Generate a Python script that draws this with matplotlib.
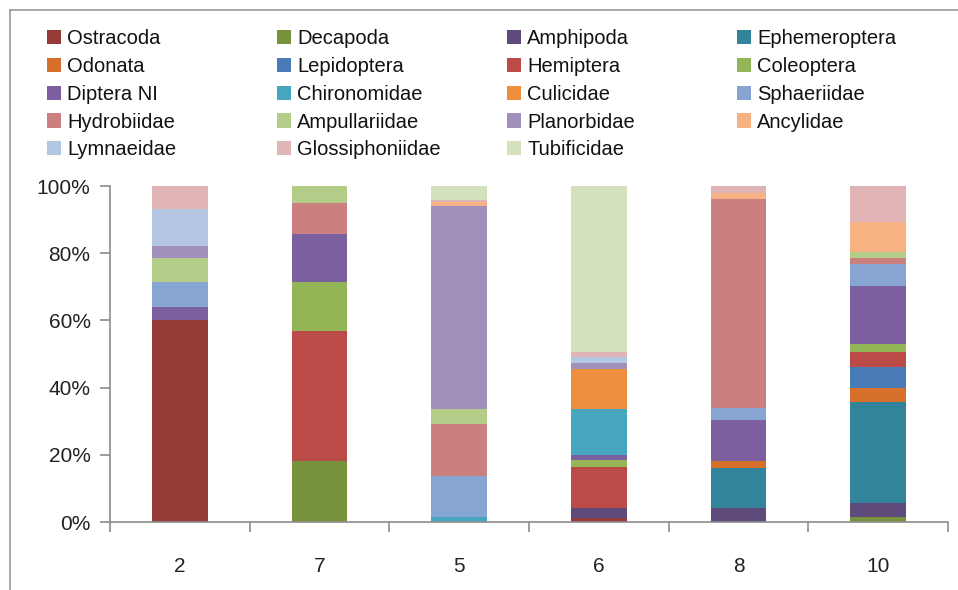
import matplotlib
matplotlib.use('Agg')
import matplotlib.pyplot as plt
from matplotlib.lines import Line2D
from matplotlib.ticker import PercentFormatter
import numpy as np

plt.rcParams['font.family'] = ['Liberation Sans Narrow', 'Liberation Sans', 'DejaVu Sans']

# sites on the x axis
sites = ['2', '7', '5', '6', '8', '10']

# relative abundance (%) of each taxon per site
ostracoda = [60.0, 0, 0, 1.3, 0, 0]
decapoda = [0, 18.3, 0, 0, 0, 1.6]
amphipoda = [0, 0, 0, 2.8, 4.3, 4.2]
ephemeroptera = [0, 0, 0, 0, 11.8, 29.8]
odonata = [0, 0, 0, 0, 2.2, 4.3]
lepidoptera = [0, 0, 0, 0, 0, 6.1]
hemiptera = [0, 38.5, 0, 12.4, 0, 4.7]
coleoptera = [0, 14.6, 0, 2.0, 0, 2.3]
diptera_ni = [3.9, 14.4, 0, 1.3, 12.0, 17.1]
chironomidae = [0, 0, 1.4, 13.9, 0, 0]
culicidae = [0, 0, 0, 11.9, 0, 0]
sphaeriidae = [7.4, 0, 12.3, 0, 3.5, 6.8]
hydrobiidae = [0, 9.2, 15.5, 0, 62.2, 1.8]
ampullariidae = [7.4, 5.0, 4.5, 0, 0, 1.7]
planorbidae = [3.3, 0, 60.4, 1.7, 0, 0]
ancylidae = [0, 0, 1.2, 0, 2.0, 9.0]
lymnaeidae = [11.2, 0, 0, 1.8, 0, 0]
glossiphoniidae = [6.8, 0, 0.5, 1.5, 2.0, 10.6]
tubificidae = [0, 0, 4.2, 49.4, 0, 0]

taxa = ['Ostracoda', 'Decapoda', 'Amphipoda', 'Ephemeroptera', 'Odonata',
        'Lepidoptera', 'Hemiptera', 'Coleoptera', 'Diptera NI', 'Chironomidae',
        'Culicidae', 'Sphaeriidae', 'Hydrobiidae', 'Ampullariidae', 'Planorbidae',
        'Ancylidae', 'Lymnaeidae', 'Glossiphoniidae', 'Tubificidae']
values = [ostracoda, decapoda, amphipoda, ephemeroptera, odonata,
          lepidoptera, hemiptera, coleoptera, diptera_ni, chironomidae,
          culicidae, sphaeriidae, hydrobiidae, ampullariidae, planorbidae,
          ancylidae, lymnaeidae, glossiphoniidae, tubificidae]
colors = ['#943A37', '#77923D', '#5F4B7B', '#32849A', '#D6702A',
          '#4A7BB9', '#BA4B48', '#94B555', '#7C5F9E', '#46A6C0',
          '#EE8F40', '#87A5D2', '#CB7F7E', '#B3CC88', '#A18FBC',
          '#F7B283', '#B4C7E2', '#E0B4B4', '#D4E1BD']

fig = plt.figure(figsize=(9.58, 5.90), dpi=100)
ax = fig.add_axes([110 / 958, 68 / 590, 838 / 958, 336 / 590])

x = np.arange(len(sites))
bottom = np.zeros(len(sites))
for name, vals, col in zip(taxa, values, colors):
    ax.bar(x, vals, width=0.4, bottom=bottom, color=col, label=name, linewidth=0)
    bottom += np.array(vals)

ax.set_xlim(-0.5, len(sites) - 0.5)
ax.set_ylim(0, 100)
ax.yaxis.set_major_formatter(PercentFormatter(decimals=0))
ax.set_yticks(np.arange(0, 101, 20))

# tick marks between categories, labels at category centres
ax.set_xticks(np.arange(-0.5, len(sites), 1.0))
ax.set_xticklabels([])
ax.set_xticks(x, minor=True)
ax.set_xticklabels(sites, minor=True)

for side in ['top', 'right']:
    ax.spines[side].set_visible(False)
for side in ['left', 'bottom']:
    ax.spines[side].set_color('#8c8c8c')
    ax.spines[side].set_linewidth(1.2)

ax.tick_params(axis='y', direction='out', length=7, width=1.2, color='#8c8c8c',
               labelsize=15, labelcolor='#222222', pad=7)
ax.tick_params(axis='x', which='major', direction='out', length=7, width=1.2,
               color='#8c8c8c')
ax.tick_params(axis='x', which='minor', length=0, labelsize=15,
               labelcolor='#222222', pad=25)

# legend laid out as four fixed-width columns
handles, labels = ax.get_legend_handles_labels()
col_x = [47, 277, 507, 737]
for c in range(4):
    h = handles[c::4]
    l = labels[c::4]
    leg = fig.legend(h, l, loc='upper left',
                     bbox_to_anchor=(col_x[c] / 958, 1 - 29 / 590),
                     frameon=False, fontsize=14.5, handlelength=0.7,
                     handleheight=0.7, handletextpad=0.3, labelspacing=0.44,
                     borderpad=0, borderaxespad=0)
    for t in leg.get_texts():
        t.set_color('#111111')

# outer frame lines
fig.add_artist(Line2D([10 / 958, 10 / 958], [0, 1 - 10 / 590],
                      transform=fig.transFigure, color='#999999', linewidth=1.2))
fig.add_artist(Line2D([10 / 958, 1], [1 - 10 / 590, 1 - 10 / 590],
                      transform=fig.transFigure, color='#999999', linewidth=1.2))

fig.savefig('out.png', dpi=100)
